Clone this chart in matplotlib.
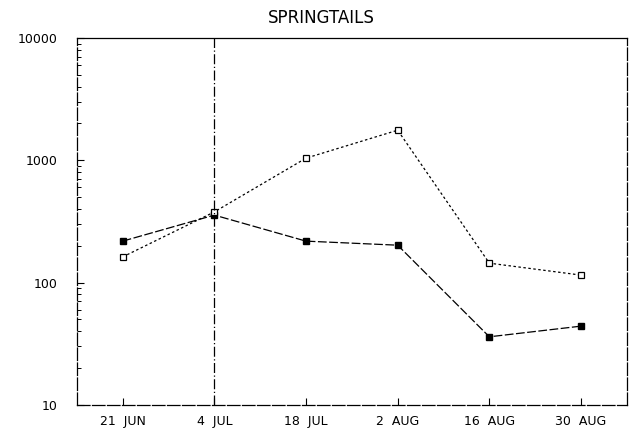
import numpy as np
import matplotlib
matplotlib.use("Agg")
import matplotlib.pyplot as plt
from matplotlib.ticker import LogLocator, NullFormatter, FixedLocator, FixedFormatter

dates = ["21  JUN", "4  JUL", "18  JUL", "2  AUG", "16  AUG", "30  AUG"]
filled = [218, 356, 218, 202, 36, 44]      # solid squares
opened = [162, 378, 1040, 1760, 144, 115]  # open squares
marker_date = "4  JUL"                      # vertical reference line
ytick_vals = [10, 100, 1000, 10000]
ytick_labels = ["10", "100", "1000", "10000"]

fig = plt.figure(figsize=(6.3, 4.41), dpi=100)
ax = fig.add_axes([0.122, 0.082, 0.873, 0.832])

x = np.arange(1, len(dates) + 1)
ax.plot(x, filled, color="black", lw=0.9, dashes=(7, 2),
        marker="s", ms=5, mfc="black", mec="black")
ax.plot(x, opened, color="black", lw=0.9, dashes=(2, 2),
        marker="s", ms=5, mfc="white", mec="black", mew=0.9)

ax.axvline(x[dates.index(marker_date)], color="black", lw=0.9, dashes=(8, 2, 1, 2))

ax.set_yscale("log")
ax.set_ylim(10, 10000)
ax.set_xlim(0.5, len(dates) + 0.5)
ax.yaxis.set_major_locator(FixedLocator(ytick_vals))
ax.yaxis.set_major_formatter(FixedFormatter(ytick_labels))
ax.yaxis.set_minor_locator(LogLocator(base=10, subs=np.arange(2, 10)))
ax.yaxis.set_minor_formatter(NullFormatter())
ax.set_xticks(x)
ax.set_xticklabels(dates)

ax.tick_params(axis="both", which="major", direction="in", length=5,
               width=0.8, labelsize=9, pad=7)
ax.tick_params(axis="y", which="major", pad=14)
ax.tick_params(axis="y", which="minor", direction="in", length=3, width=0.7)
for side in ["left", "right", "bottom"]:
    ax.spines[side].set_linestyle((0, (10, 2)))
for s in ax.spines.values():
    s.set_linewidth(0.9)

ax.set_title("SPRINGTAILS", fontsize=12, pad=11, x=0.445)
fig.savefig("out.png", dpi=100)
